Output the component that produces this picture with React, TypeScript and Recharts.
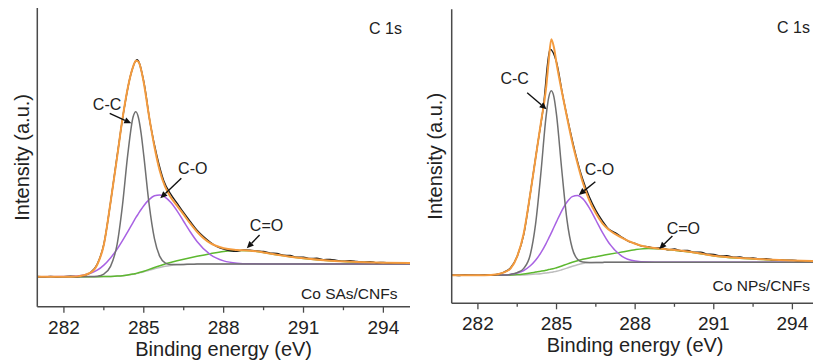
import { LineChart, Line, XAxis, YAxis, ReferenceLine, ReferenceDot } from "recharts";

// binding energy grid (eV) shared by the fitted curves
const energy = [
  281, 282, 282.5, 283, 283.25, 283.5, 283.75, 284, 284.2, 284.4, 284.6, 284.7,
  284.8, 284.9, 285, 285.2, 285.4, 285.6, 285.8, 286, 286.25, 286.5, 286.75, 287,
  287.5, 288, 288.5, 289, 289.5, 290, 290.5, 291, 292, 293, 294, 295,
];

// raw spectrum grid
const rawEnergy = [
  281, 281.25, 281.5, 281.75, 282, 282.25, 282.5, 282.75, 283, 283.25, 283.5, 283.75,
  284, 284.25, 284.5, 284.75, 285, 285.25, 285.5, 285.75, 286, 286.25, 286.5, 286.75,
  287, 287.25, 287.5, 287.75, 288, 288.25, 288.5, 288.75, 289, 289.25, 289.5, 289.75,
  290, 290.25, 290.5, 290.75, 291, 291.25, 291.5, 291.75, 292, 292.25, 292.5, 292.75,
  293, 293.25, 293.5, 293.75, 294, 294.25, 294.5, 294.75, 295,
];

const energyTicks = [282, 283.5, 285, 286.5, 288, 289.5, 291, 292.5, 294];
const majorTicks = [282, 285, 288, 291, 294];

// Co SAs/CNFs
const bgSAs = [
  30, 30, 30, 30, 30, 30.1, 30.3, 30.6, 31, 31.6, 32.4, 33, 33.6, 34.3, 35, 36.5, 38,
  39.3, 40.4, 41.2, 41.9, 42.3, 42.5, 42.6, 42.7, 42.8, 42.8, 42.8, 42.8, 42.8, 42.8,
  42.8, 42.8, 42.8, 42.8, 42.8,
];
const ccSAs = [
  30, 30, 30, 30.1, 30.5, 32.6, 40.3, 62.6, 101.6, 152.6, 189.9, 195, 189, 173.3, 151,
  102.5, 68, 50.3, 43.9, 42.2, 42.2, 42.3, 42.5, 42.6, 42.7, 42.8, 42.8, 42.8, 42.8,
  42.8, 42.8, 42.8, 42.8, 42.8, 42.8, 42.8,
];
const coSAs = [
  30, 30.1, 30.8, 33.5, 36.5, 41.6, 48.8, 57.6, 66, 75.1, 84.4, 89, 93.1, 97.2, 101,
  107.1, 110.9, 111.7, 109.5, 104.6, 95.8, 85.2, 74.7, 65.2, 52, 45.8, 43.5, 42.9, 42.8,
  42.8, 42.8, 42.8, 42.8, 42.8, 42.8, 42.8,
];
const c2oSAs = [
  30, 30, 30, 30, 30, 30.1, 30.3, 30.6, 31, 31.7, 32.6, 33.3, 33.9, 34.7, 35.5, 37.3,
  39.2, 41, 42.7, 44.2, 45.9, 47.5, 49, 50.4, 53, 55.2, 56.3, 56, 54.2, 51.9, 49.9, 48.3,
  45.9, 44.6, 43.8, 43.4,
];
const fitSAs = [
  30, 30, 30.2, 34, 42, 62, 104, 150, 188, 219, 240, 246, 245, 237, 224, 190, 160, 136,
  120, 110, 101, 92, 83, 75, 63.5, 58.5, 56.8, 56, 54.3, 52, 50, 48.4, 46, 44.8, 44, 43.6,
];
const rawSAs = [
  30.2, 29.8, 30.3, 29.9, 30.1, 30.4, 30.0, 31.0, 34.2, 42.5, 62.5, 104, 151, 196, 231,
  247, 225, 182, 150, 126, 113, 103.5, 94, 85, 76.5, 70, 64.5, 60, 57.5, 56, 55.5, 56.8,
  56.5, 55.8, 55.2, 53.6, 53.2, 51.5, 51.2, 49.4, 49.6, 48.2, 48.5, 47, 47.3, 46.2, 45.4,
  46, 45.2, 44.5, 45.1, 44, 44.3, 43.6, 44, 43.3, 43.7,
];

// Co NPs/CNFs
const bgNPs = [
  28, 28, 28, 28, 28.1, 28.2, 28.4, 28.8, 29.2, 29.6, 30.2, 30.6, 31, 31.5, 32, 33.5,
  35.2, 37, 38.6, 39.8, 40.5, 40.8, 40.9, 41, 41, 41, 41, 41, 41, 41, 41, 41, 41, 41, 41, 41,
];
const ccNPs = [
  28, 28, 28, 28.2, 28.9, 30.7, 34.9, 48.8, 79.2, 129.4, 186.6, 205.6, 212.6, 206.5,
  188.4, 133.3, 83.2, 55, 44.1, 41.3, 40.9, 40.8, 40.9, 41, 41, 41, 41, 41, 41, 41, 41,
  41, 41, 41, 41, 41,
];
const coNPs = [
  28, 28, 28, 28.3, 29, 30.3, 32.8, 37.5, 43, 50.4, 59.7, 65, 70.4, 76.1, 81.7, 92.5,
  101.3, 106.7, 107.9, 104.7, 95.5, 83.3, 70.9, 60.3, 47, 42.3, 41.2, 41, 41, 41, 41, 41,
  41, 41, 41, 41,
];
const c2oNPs = [
  28, 28, 28, 28.1, 28.3, 28.7, 29.4, 30.3, 31.2, 32.1, 33.1, 33.7, 34.2, 34.9, 35.5,
  37.3, 39.2, 41, 42.6, 44, 45.4, 46.6, 47.8, 49, 51.3, 53.6, 54.8, 54.3, 53, 51.5, 49.5,
  47.4, 45, 43.6, 42.6, 42,
];
const fitNPs = [
  28, 28, 28.3, 31, 35, 47, 70, 110, 145, 180, 215, 242, 264, 256, 240, 212, 186, 161,
  140, 121, 103, 90, 80, 73.5, 65.5, 59.5, 56, 54.5, 53.3, 51.8, 49.8, 47.6, 45.2, 43.8,
  42.8, 42.2,
];
const rawNPs = [
  28.2, 27.8, 28.3, 28, 27.9, 28.4, 28.1, 29, 31.2, 35.5, 47, 69, 110, 154, 197, 254,
  241, 206, 175, 147, 124, 106.5, 93, 82.5, 74, 70.5, 66, 62, 59.8, 57.2, 56.5, 55.2,
  55.5, 53.6, 54.3, 52.6, 52.9, 51, 51.2, 49.2, 48.8, 47.3, 47.6, 46.1, 46.3, 45, 45.3,
  44.2, 44.5, 43.5, 43.7, 43, 43.2, 42.5, 42.7, 42.2, 42.4,
];

// peak labels and arrows, in data units (eV, intensity)
const notesSAs = [
  { text: "C-C", e: 283.62, v: 202.7 },
  { text: "C-O", e: 286.84, v: 138.4 },
  { text: "C=O", e: 289.61, v: 81.7 },
];
const arrowsSAs = [
  { from: [283.72, 193.4], to: [284.53, 183.4] },
  { from: [286.41, 128.4], to: [285.62, 108.4] },
  { from: [289.35, 71.7], to: [288.87, 58.4] },
];
const notesNPs = [
  { text: "C-C", e: 283.4, v: 225 },
  { text: "C-O", e: 286.64, v: 134 },
  { text: "C=O", e: 289.84, v: 74.5 },
];
const arrowsNPs = [
  { from: [283.88, 210.6], to: [284.62, 194] },
  { from: [286.48, 121.6], to: [285.85, 108.3] },
  { from: [289.42, 67.3], to: [288.92, 54.3] },
];

const INK = "#222";
const FRAME = "#4a4a4a";
const FIT = "#F49B3E";
const CC = "#707070";
const CO = "#A862E3";
const C2O = "#5DB830";
const BG = "#BDBDBD";
const RAW = "#1c1c1c";
const TICK_SIZE = 6;
const TICK_MARGIN = 6;

function buildRows(bg: number[], cc: number[], co: number[], c2o: number[], fit: number[]) {
  return energy.map((e, i) => ({ e, bg: bg[i], cc: cc[i], co: co[i], c2o: c2o[i], fit: fit[i] }));
}

function EnergyTick(props: any) {
  const { x, y, payload } = props;
  const axisY = y - TICK_SIZE - TICK_MARGIN;
  const isMajor = majorTicks.includes(payload.value);
  return (
    <g>
      <line x1={x} x2={x} y1={axisY} y2={axisY + (isMajor ? 6 : 3.5)} stroke={FRAME} strokeWidth={1.3} />
      {isMajor && (
        <text x={x} y={axisY + 26.9} textAnchor="middle" fontSize={19} fill={INK}>
          {payload.value}
        </text>
      )}
    </g>
  );
}

function Arrow(props: any) {
  const { x1, y1, x2, y2 } = props;
  const ang = Math.atan2(y2 - y1, x2 - x1);
  const len = 7;
  const half = 3.2;
  const bx = x2 - len * Math.cos(ang);
  const by = y2 - len * Math.sin(ang);
  const px = -Math.sin(ang) * half;
  const py = Math.cos(ang) * half;
  return (
    <g>
      <line x1={x1} y1={y1} x2={bx} y2={by} stroke="#111" strokeWidth={1.4} />
      <polygon points={`${x2},${y2} ${bx + px},${by + py} ${bx - px},${by - py}`} fill="#111" />
    </g>
  );
}

function noteShape(text: string, size: number, anchor: string) {
  return (p: any) => (
    <text x={p.cx} y={p.cy} dy="0.35em" textAnchor={anchor} fontSize={size} fill={INK}>
      {text}
    </text>
  );
}

type PanelProps = {
  rows: any[];
  raw: number[];
  sample: string;
  notes: { text: string; e: number; v: number }[];
  arrows: { from: number[]; to: number[] }[];
  corner: { topE: number; top: number; bottomE: number; bottom: number };
  left: number;
  margin: { top: number; right: number; bottom: number; left: number };
  yAxisWidth: number;
  xAxisHeight: number;
  yMax: number;
  titleOffset: number;
};

function Panel(p: PanelProps) {
  const rawRows = rawEnergy.map((e, i) => ({ e, raw: p.raw[i] }));
  return (
    <div style={{ position: "absolute", left: p.left, top: 0 }}>
      <LineChart width={430} height={363} data={p.rows} margin={p.margin}>
        <XAxis
          dataKey="e"
          type="number"
          domain={[281, 295]}
          ticks={energyTicks}
          interval={0}
          tickSize={TICK_SIZE}
          tickMargin={TICK_MARGIN}
          tickLine={false}
          tick={<EnergyTick />}
          height={p.xAxisHeight}
          axisLine={{ stroke: FRAME, strokeWidth: 1.5 }}
          label={{ value: "Binding energy (eV)", position: "insideBottom", offset: p.titleOffset, fontSize: 20, fill: INK }}
        />
        <XAxis
          xAxisId="top"
          orientation="top"
          dataKey="e"
          type="number"
          domain={[281, 295]}
          height={0}
          tick={false}
          tickLine={false}
          axisLine={{ stroke: FRAME, strokeWidth: 1.5 }}
        />
        <YAxis
          type="number"
          domain={[0, p.yMax]}
          width={p.yAxisWidth}
          tick={false}
          tickLine={false}
          axisLine={{ stroke: FRAME, strokeWidth: 1.5 }}
          label={{ value: "Intensity (a.u.)", angle: -90, position: "center", fontSize: 20, fill: INK }}
        />
        <YAxis
          yAxisId="right"
          orientation="right"
          type="number"
          domain={[0, p.yMax]}
          width={0}
          tick={false}
          tickLine={false}
          axisLine={{ stroke: FRAME, strokeWidth: 1.5 }}
        />

        <Line dataKey="bg" type="monotone" stroke={BG} strokeWidth={1.5} dot={false} activeDot={false} isAnimationActive={false} />
        <Line dataKey="c2o" type="monotone" stroke={C2O} strokeWidth={1.5} dot={false} activeDot={false} isAnimationActive={false} />
        <Line dataKey="co" type="monotone" stroke={CO} strokeWidth={1.5} dot={false} activeDot={false} isAnimationActive={false} />
        <Line dataKey="cc" type="monotone" stroke={CC} strokeWidth={1.5} dot={false} activeDot={false} isAnimationActive={false} />
        <Line data={rawRows} dataKey="raw" type="monotone" stroke={RAW} strokeWidth={1.4} dot={false} activeDot={false} isAnimationActive={false} />
        <Line dataKey="fit" type="monotone" stroke={FIT} strokeWidth={2} dot={false} activeDot={false} isAnimationActive={false} />

        {p.arrows.map((a, i) => (
          <ReferenceLine
            key={`a${i}`}
            segment={[{ x: a.from[0], y: a.from[1] }, { x: a.to[0], y: a.to[1] }]}
            shape={Arrow}
          />
        ))}
        {p.notes.map((n) => (
          <ReferenceDot key={n.text} x={n.e} y={n.v} r={0} shape={noteShape(n.text, 16, "middle")} />
        ))}
        <ReferenceDot x={p.corner.topE} y={p.corner.top} r={0} shape={noteShape("C 1s", 16, "end")} />
        <ReferenceDot x={p.corner.bottomE} y={p.corner.bottom} r={0} shape={noteShape(p.sample, 15.5, "end")} />
      </LineChart>
    </div>
  );
}

export default function App() {
  return (
    <div
      style={{
        position: "fixed",
        left: 0,
        top: 0,
        width: 813,
        height: 363,
        overflow: "hidden",
        background: "#fff",
        fontFamily: "'Liberation Sans', Arial, sans-serif",
      }}
    >
      <Panel
        rows={buildRows(bgSAs, ccSAs, coSAs, c2oSAs, fitSAs)}
        raw={rawSAs}
        sample="Co SAs/CNFs"
        notes={notesSAs}
        arrows={arrowsSAs}
        corner={{ topE: 294.7, top: 278, bottomE: 294.53, bottom: 13 }}
        left={0}
        margin={{ top: 8, right: 20, bottom: 0, left: 6 }}
        yAxisWidth={31.3}
        xAxisHeight={56.3}
        yMax={298.7}
        titleOffset={7.3}
      />
      <Panel
        rows={buildRows(bgNPs, ccNPs, coNPs, c2oNPs, fitNPs)}
        raw={rawNPs}
        sample="Co NPs/CNFs"
        notes={notesNPs}
        arrows={arrowsNPs}
        corner={{ topE: 294.67, top: 275.8, bottomE: 294.67, bottom: 17.8 }}
        left={410}
        margin={{ top: 9.3, right: 21.4, bottom: 0, left: 8.3 }}
        yAxisWidth={33.4}
        xAxisHeight={59.7}
        yMax={294}
        titleOffset={10.7}
      />
    </div>
  );
}
